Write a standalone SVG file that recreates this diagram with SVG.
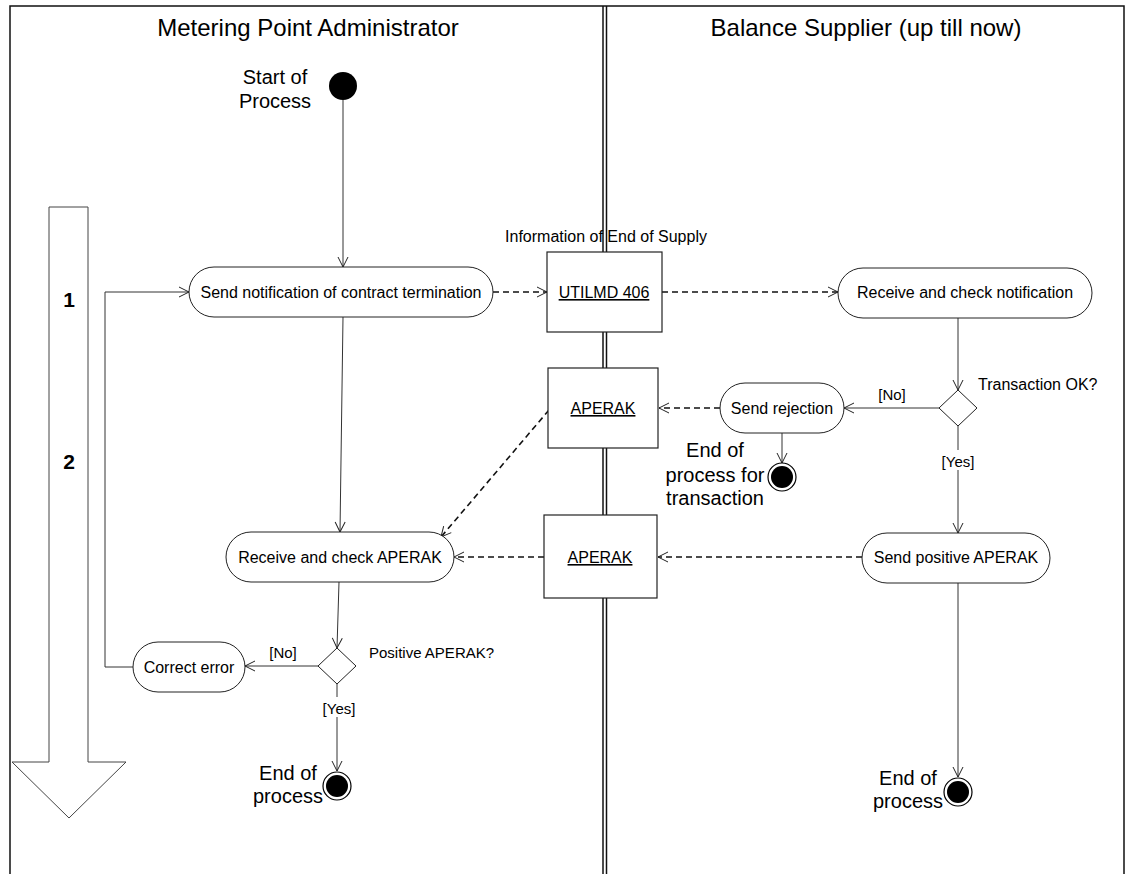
<svg xmlns="http://www.w3.org/2000/svg" width="1130" height="874" viewBox="0 0 1130 874">
<defs>
<marker id="arr" markerWidth="12" markerHeight="12" refX="11" refY="6" orient="auto" markerUnits="userSpaceOnUse">
<path d="M1,1 L11,6 L1,11" fill="none" stroke="#222" stroke-width="1"/>
</marker>
<style>
text{font-family:"Liberation Sans",Arial,sans-serif;fill:#000}
.title{font-size:24px;text-anchor:middle}
.node{font-size:16px;text-anchor:middle}
.lbl{font-size:15px}
.lbl16{font-size:16px}
.big{font-size:20px;text-anchor:middle}
.num{font-size:21px;font-weight:bold;text-anchor:middle}
.act{fill:#fff;stroke:#222;stroke-width:1}
.obj{fill:#fff;stroke:#222;stroke-width:1.2}
.flow{fill:none;stroke:#333;stroke-width:1;marker-end:url(#arr)}
.dash{fill:none;stroke:#111;stroke-width:1.6;stroke-dasharray:6,4;marker-end:url(#arr)}
.lane{fill:none;stroke:#111;stroke-width:1.5}
</style>
</defs>
<rect width="1130" height="874" fill="#fff"/>
<g id="lanes">
<path class="lane" d="M10,874 V6 H1124 V874"/>
<line class="lane" x1="603" y1="6" x2="603" y2="874"/>
<line class="lane" x1="606.5" y1="6" x2="606.5" y2="874"/>
<text class="title" x="308" y="36">Metering Point Administrator</text>
<text class="title" x="866" y="36">Balance Supplier (up till now)</text>
</g>
<g id="phase-arrow">
<path d="M49,207 H88 V762 H126 L69,818 L12,762 H49 Z" fill="#fff" stroke="#444" stroke-width="1"/>
<text class="num" x="69" y="307">1</text>
<text class="num" x="69" y="469">2</text>
</g>
<g id="connectors">
<line class="flow" x1="343" y1="100" x2="343" y2="267"/>
<polyline class="flow" points="133,667 105,667 105,292 189,292"/>
<line class="dash" x1="493" y1="292" x2="547" y2="292"/>
<line class="dash" x1="662" y1="292" x2="838" y2="292"/>
<line class="flow" x1="958" y1="318" x2="958" y2="390"/>
<line class="flow" x1="939" y1="408" x2="844" y2="408"/>
<line class="dash" x1="720" y1="408" x2="659" y2="408"/>
<line class="flow" x1="782" y1="433" x2="782" y2="463"/>
<line class="flow" x1="958" y1="426" x2="958" y2="533"/>
<line class="dash" x1="862" y1="557" x2="658" y2="557"/>
<line class="dash" x1="544" y1="557" x2="454" y2="557"/>
<line class="dash" x1="549" y1="410" x2="441" y2="537"/>
<line class="flow" x1="343" y1="317" x2="340" y2="532"/>
<line class="flow" x1="339" y1="582" x2="337" y2="648"/>
<line class="flow" x1="318" y1="666" x2="245" y2="666"/>
<line class="flow" x1="337" y1="684" x2="337" y2="771"/>
<line class="flow" x1="958" y1="583" x2="958" y2="777"/>
</g>
<g id="start">
<circle cx="343" cy="86" r="14" fill="#000"/>
<text class="big" x="275" y="84">Start of</text>
<text class="big" x="275" y="108">Process</text>
</g>
<g id="send-notification">
<rect class="act" x="189" y="267" width="304" height="50" rx="25"/>
<text class="node" x="341" y="298">Send notification of contract termination</text>
</g>
<g id="utilmd">
<text class="lbl16" x="606" y="242" text-anchor="middle">Information of End of Supply</text>
<rect class="obj" x="547" y="252" width="115" height="80"/>
<text class="node" x="604" y="298" text-decoration="underline">UTILMD 406</text>
</g>
<g id="receive-notification">
<rect class="act" x="838" y="268" width="254" height="50" rx="25"/>
<text class="node" x="965" y="298">Receive and check notification</text>
</g>
<g id="transaction-ok">
<polygon class="act" points="958,390 977,408 958,426 939,408"/>
<text class="lbl16" x="978" y="390">Transaction OK?</text>
<text class="lbl" x="892" y="400" text-anchor="middle">[No]</text>
<rect x="940" y="450" width="36" height="20" fill="#fff"/>
<text class="lbl" x="958" y="467" text-anchor="middle">[Yes]</text>
</g>
<g id="send-rejection">
<rect class="act" x="720" y="383" width="124" height="50" rx="25"/>
<text class="node" x="782" y="414">Send rejection</text>
</g>
<g id="aperak-1">
<rect class="obj" x="548" y="368" width="110" height="80"/>
<text class="node" x="603" y="414" text-decoration="underline">APERAK</text>
</g>
<g id="end-transaction">
<circle cx="782" cy="477" r="14" fill="#fff" stroke="#000" stroke-width="1.2"/>
<circle cx="782" cy="477" r="11" fill="#000"/>
<text class="big" x="715" y="457">End of</text>
<text class="big" x="715" y="482">process for</text>
<text class="big" x="715" y="505">transaction</text>
</g>
<g id="send-positive">
<rect class="act" x="862" y="533" width="188" height="50" rx="25"/>
<text class="node" x="956" y="563">Send positive APERAK</text>
</g>
<g id="aperak-2">
<rect class="obj" x="544" y="515" width="113" height="83"/>
<text class="node" x="600" y="563" text-decoration="underline">APERAK</text>
</g>
<g id="receive-aperak">
<rect class="act" x="226" y="532" width="228" height="50" rx="25"/>
<text class="node" x="340" y="563">Receive and check APERAK</text>
</g>
<g id="positive-aperak">
<polygon class="act" points="337,648 356,666 337,684 318,666"/>
<text class="lbl" x="369" y="658">Positive APERAK?</text>
<text class="lbl" x="283" y="658" text-anchor="middle">[No]</text>
<rect x="320" y="697" width="36" height="20" fill="#fff"/>
<text class="lbl" x="339" y="714" text-anchor="middle">[Yes]</text>
</g>
<g id="correct-error">
<rect class="act" x="133" y="642" width="112" height="50" rx="25"/>
<text class="node" x="189" y="673">Correct error</text>
</g>
<g id="end-left">
<circle cx="337" cy="786" r="14" fill="#fff" stroke="#000" stroke-width="1.2"/>
<circle cx="337" cy="786" r="11" fill="#000"/>
<text class="big" x="288" y="780">End of</text>
<text class="big" x="288" y="803">process</text>
</g>
<g id="end-right">
<circle cx="958" cy="792" r="14" fill="#fff" stroke="#000" stroke-width="1.2"/>
<circle cx="958" cy="792" r="11" fill="#000"/>
<text class="big" x="908" y="785">End of</text>
<text class="big" x="908" y="808">process</text>
</g>
</svg>
